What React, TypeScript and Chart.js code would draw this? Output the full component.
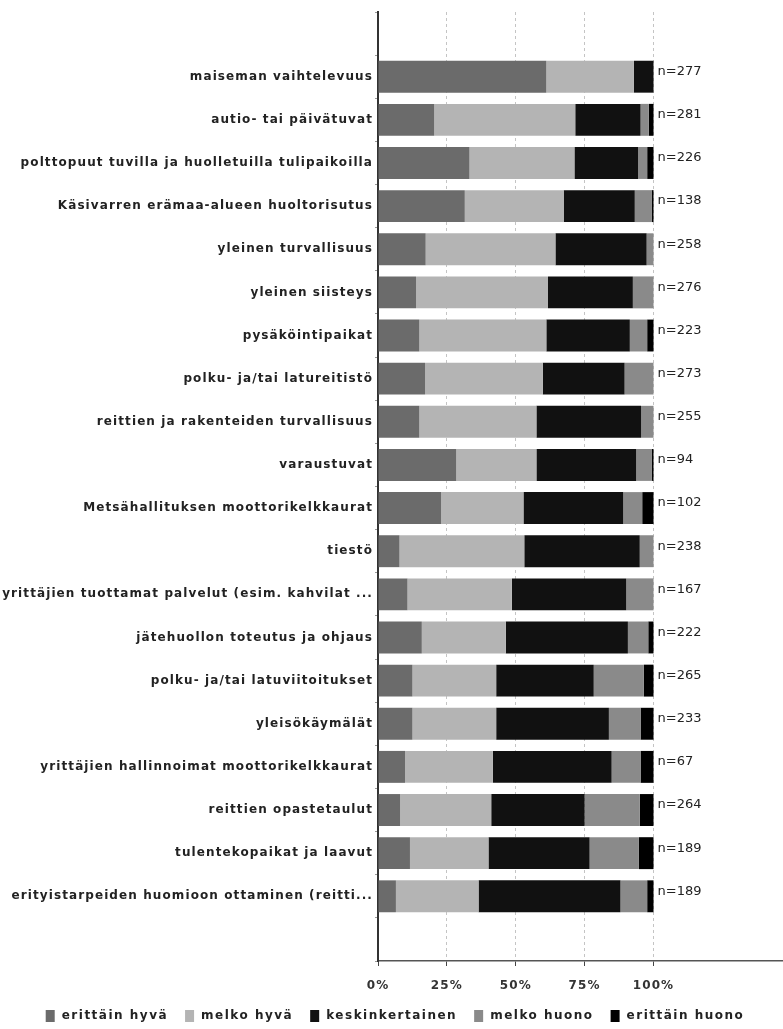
import React, { useEffect, useRef } from "react";
import { Chart, registerables } from "chart.js";

Chart.register(...registerables);

const categories = [
  "maiseman vaihtelevuus",
  "autio- tai päivätuvat",
  "polttopuut tuvilla ja huolletuilla tulipaikoilla",
  "Käsivarren erämaa-alueen huoltorisutus",
  "yleinen turvallisuus",
  "yleinen siisteys",
  "pysäköintipaikat",
  "polku- ja/tai latureitistö",
  "reittien ja rakenteiden turvallisuus",
  "varaustuvat",
  "Metsähallituksen moottorikelkkaurat",
  "tiestö",
  "yrittäjien tuottamat palvelut (esim. kahvilat ...",
  "jätehuollon toteutus ja ohjaus",
  "polku- ja/tai latuviitoitukset",
  "yleisökäymälät",
  "yrittäjien hallinnoimat moottorikelkkaurat",
  "reittien opastetaulut",
  "tulentekopaikat ja laavut",
  "erityistarpeiden huomioon ottaminen (reitti...",
];

const counts = [277, 281, 226, 138, 258, 276, 223, 273, 255, 94, 102, 238, 167, 222, 265, 233, 67, 264, 189, 189];

const erittainHyva = [61.1, 20.4, 33.2, 31.5, 17.3, 13.8, 15.0, 17.1, 15.0, 28.4, 22.9, 7.8, 10.7, 15.9, 12.5, 12.5, 9.8, 8.0, 11.6, 6.5];
const melkoHyva = [31.8, 51.2, 38.1, 35.9, 47.1, 47.9, 46.1, 42.7, 42.5, 29.1, 29.9, 45.3, 37.9, 30.5, 30.4, 30.4, 31.9, 33.1, 28.5, 30.0];
const keskinkertainen = [7.1, 23.7, 23.1, 25.8, 33.1, 30.8, 30.3, 29.7, 38.0, 36.2, 36.2, 41.9, 41.5, 44.3, 35.4, 40.9, 43.1, 33.9, 36.7, 51.5];
const melkoHuono = [0, 3.0, 3.3, 6.1, 2.5, 7.5, 6.3, 10.5, 4.5, 5.6, 6.9, 5.0, 9.9, 7.4, 18.2, 11.5, 10.5, 20.0, 17.9, 9.7];
const erittainHuono = [0, 1.7, 2.3, 0.7, 0, 0, 2.3, 0, 0, 0.7, 4.1, 0, 0, 1.9, 3.5, 4.7, 4.7, 5.0, 5.3, 2.3];

const seriesNames = ["erittäin hyvä", "melko hyvä", "keskinkertainen", "melko huono", "erittäin huono"];
const seriesColors = ["#6b6b6b", "#b4b4b4", "#111111", "#8a8a8a", "#000000"];
const xTicks = [0, 25, 50, 75, 100];

const pad = (arr: (number | null)[]) => [null, ...arr, null];

export default function App() {
  const ref = useRef<HTMLCanvasElement | null>(null);

  useEffect(() => {
    document.body.style.margin = "0";
    const canvas = ref.current;
    if (!canvas) return;

    const spacing = {
      id: "spacing",
      beforeDraw(chart: any) {
        chart.ctx.letterSpacing = "1.1px";
      },
      afterDraw(chart: any) {
        chart.ctx.letterSpacing = "0px";
      },
    };

    const nLabels = {
      id: "nLabels",
      afterDatasetsDraw(chart: any) {
        const ctx = chart.ctx;
        const meta = chart.getDatasetMeta(0);
        const x = chart.scales.x.getPixelForValue(100) + 4;
        ctx.save();
        ctx.letterSpacing = "0px";
        ctx.font = "13px 'DejaVu Sans'";
        ctx.fillStyle = "#222";
        ctx.textAlign = "left";
        ctx.textBaseline = "middle";
        counts.forEach((n, i) => {
          const el = meta.data[i + 1];
          ctx.fillText(`n=${n}`, x, el.y - 5);
        });
        ctx.restore();
      },
    };

    const legendPlugin = {
      id: "customLegend",
      afterDraw(chart: any) {
        const ctx = chart.ctx;
        ctx.save();
        ctx.letterSpacing = "1.5px";
        ctx.font = "bold 12px 'DejaVu Sans'";
        ctx.textBaseline = "middle";
        ctx.textAlign = "left";
        const boxW = 9, boxH = 12, gapBox = 7, gapItem = 17;
        const widths = seriesNames.map((s) => ctx.measureText(s).width);
        const total = widths.reduce((a, w) => a + boxW + gapBox + w, 0) + gapItem * (seriesNames.length - 1);
        let x = 395 - total / 2;
        const y = 1016;
        seriesNames.forEach((s, i) => {
          ctx.fillStyle = seriesColors[i];
          ctx.fillRect(x, y - boxH / 2, boxW, boxH);
          x += boxW + gapBox;
          ctx.fillStyle = "#222";
          ctx.fillText(s, x, y);
          x += widths[i] + gapItem;
        });
        ctx.restore();
      },
    };

    const data = [erittainHyva, melkoHyva, keskinkertainen, melkoHuono, erittainHuono];

    const chart = new Chart(canvas, {
      type: "bar",
      data: {
        labels: ["", ...categories, ""],
        datasets: seriesNames.map((name, i) => ({
          label: name,
          data: pad(data[i]),
          backgroundColor: seriesColors[i],
          borderWidth: 0,
          barPercentage: 0.74,
          categoryPercentage: 1,
        })),
      },
      options: {
        indexAxis: "y",
        animation: false,
        responsive: false,
        layout: { padding: { top: 12, right: 0, bottom: 0, left: 0 } },
        plugins: { legend: { display: false }, tooltip: { enabled: false } },
        scales: {
          x: {
            stacked: true,
            min: 0,
            max: 147,
            afterBuildTicks: (scale: any) => {
              scale.ticks = xTicks.map((v) => ({ value: v }));
            },
            afterFit: (scale: any) => {
              scale.height = 68;
            },
            grid: {
              color: (c: any) => (c.tick && c.tick.value === 0 ? "rgba(0,0,0,0)" : "#c4c4c4"),
              tickBorderDash: [],
              tickColor: "#444",
              tickLength: 5,
              lineWidth: 1,
            },
            border: { color: "#555", width: 1.5, dash: [3, 3] },
            ticks: {
              callback: (v: any) => `${v}%`,
              font: { family: "'DejaVu Sans'", size: 12, weight: "bold" },
              color: "#333",
              padding: 13,
              maxRotation: 0,
            },
          },
          y: {
            stacked: true,
            afterFit: (scale: any) => {
              scale.width = 378;
            },
            grid: { drawOnChartArea: false, tickLength: 3, color: "#999" },
            border: { color: "#333", width: 2 },
            ticks: {
              font: { family: "'DejaVu Sans'", size: 12, weight: "bold" },
              color: "#222",
              padding: 2,
              autoSkip: false,
            },
          },
        },
      } as any,
      plugins: [spacing, nLabels, legendPlugin],
    });
    return () => chart.destroy();
  }, []);

  return (
    <div style={{ width: 783, height: 1029 }}>
      <canvas ref={ref} width={783} height={1029} style={{ display: "block" }} />
    </div>
  );
}
